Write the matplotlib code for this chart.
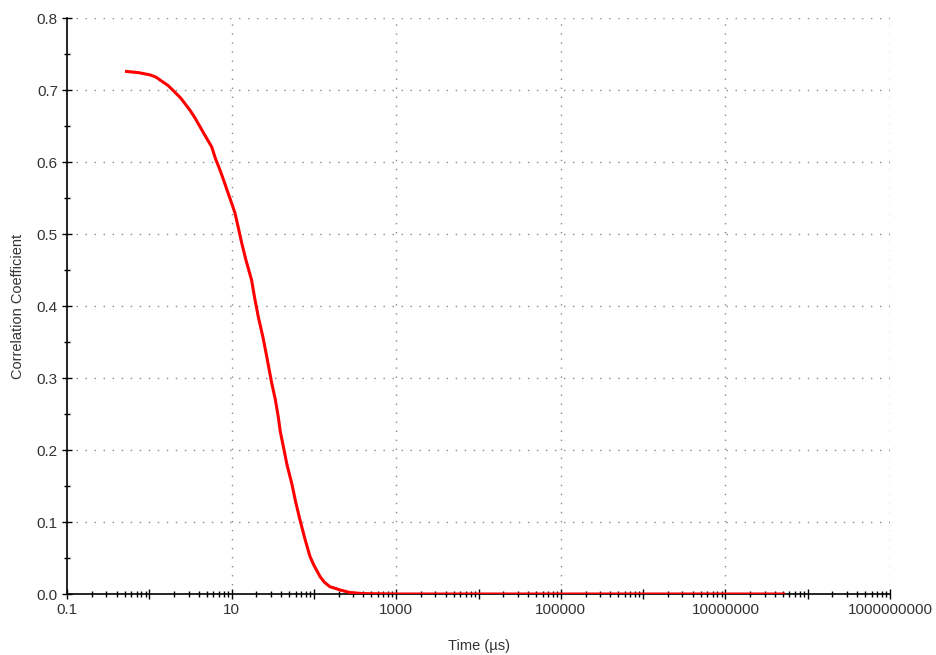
import matplotlib.pyplot as plt
import numpy as np
from matplotlib.ticker import FixedLocator, FuncFormatter

plt.rcParams['font.family'] = ['Liberation Sans', 'DejaVu Sans']

# correlation curve (time in microseconds)
time_us = [0.507, 0.75, 1.02, 1.2, 1.47, 1.7, 1.96, 2.4, 3.12, 3.6, 4.13, 4.8,
           5.73, 6.4, 7.22, 8.1, 9.12, 10.0, 11.0, 12.0, 13.3, 15.0, 17.5, 19.0,
           21.1, 24.0, 26.7, 30.7, 34.0, 36.9, 39.0, 42.5, 47.0, 53.7, 60.0,
           67.7, 78.0, 89.7, 100, 119, 135, 157, 180, 208, 275, 400, 1112,
           1.0e5, 1.0e7, 5.3e7]
corr = [0.726, 0.724, 0.721, 0.718, 0.711, 0.706, 0.699, 0.689, 0.672, 0.661,
        0.649, 0.636, 0.621, 0.604, 0.589, 0.573, 0.556, 0.543, 0.529, 0.510,
        0.487, 0.463, 0.436, 0.412, 0.385, 0.357, 0.330, 0.293, 0.270, 0.246,
        0.226, 0.205, 0.180, 0.154, 0.128, 0.103, 0.076, 0.052, 0.040, 0.024,
        0.016, 0.010, 0.008, 0.0056, 0.002, 0.0005, 0.0, 0.0, 0.0, 0.0]

decades = [10.0 ** k for k in range(-1, 10)]
labelled = [0.1, 10, 1000, 100000, 10000000, 1000000000]
y_major = [0.0, 0.1, 0.2, 0.3, 0.4, 0.5, 0.6, 0.7, 0.8]

txt = '#333333'

fig = plt.figure(figsize=(9.36, 6.55), dpi=100)
ax = fig.add_axes([67 / 936, 1 - 594 / 655, 823 / 936, 576 / 655])

ax.plot(time_us, corr, color='#ff0000', lw=2.2, solid_capstyle='butt',
        solid_joinstyle='round', zorder=3)

ax.set_xscale('log')
ax.set_xlim(0.1, 1e9)
ax.set_ylim(0, 0.8)

# dotted grid only at labelled decades and every 0.1
for x in labelled[1:]:
    ax.axvline(x, color='#888888', lw=1.0, ls=(0, (1, 5.5)), zorder=1)
for y in y_major[1:]:
    ax.axhline(y, color='#888888', lw=1.0, ls=(0, (1, 5.5)), zorder=1)

ax.xaxis.set_major_locator(FixedLocator(decades))
minor = [m * d for d in decades[:-1] for m in range(2, 10)]
ax.xaxis.set_minor_locator(FixedLocator(minor))
ax.xaxis.set_major_formatter(FuncFormatter(
    lambda v, p: ('%g' % v if v < 1 else '%d' % round(v)) if any(abs(v - l) / l < 1e-6 for l in labelled) else ''))
ax.xaxis.set_minor_formatter(FuncFormatter(lambda v, p: ''))

ax.yaxis.set_major_locator(FixedLocator(y_major))
ax.yaxis.set_minor_locator(FixedLocator(np.arange(0.05, 0.8, 0.1)))
ax.yaxis.set_major_formatter(FuncFormatter(lambda v, p: '%.1f' % v))

ax.tick_params(which='major', direction='inout', length=7, width=1, color='black',
               labelsize=11, labelcolor=txt)
ax.tick_params(which='minor', direction='inout', length=5, width=1, color='black')
ax.tick_params(axis='x', which='major', pad=3)
ax.tick_params(axis='y', which='major', pad=3)

for s in ['top', 'right']:
    ax.spines[s].set_visible(False)
for s in ['left', 'bottom']:
    ax.spines[s].set_linewidth(1.2)
    ax.spines[s].set_zorder(2)

ax.set_xlabel('Time (µs)', fontsize=10.5, color=txt)
ax.set_ylabel('Correlation Coefficient', fontsize=10.5, color=txt)
ax.xaxis.set_label_coords(0.5, -0.078)
ax.yaxis.set_label_coords(-0.051, 0.5)

fig.savefig('out.png', dpi=100)
